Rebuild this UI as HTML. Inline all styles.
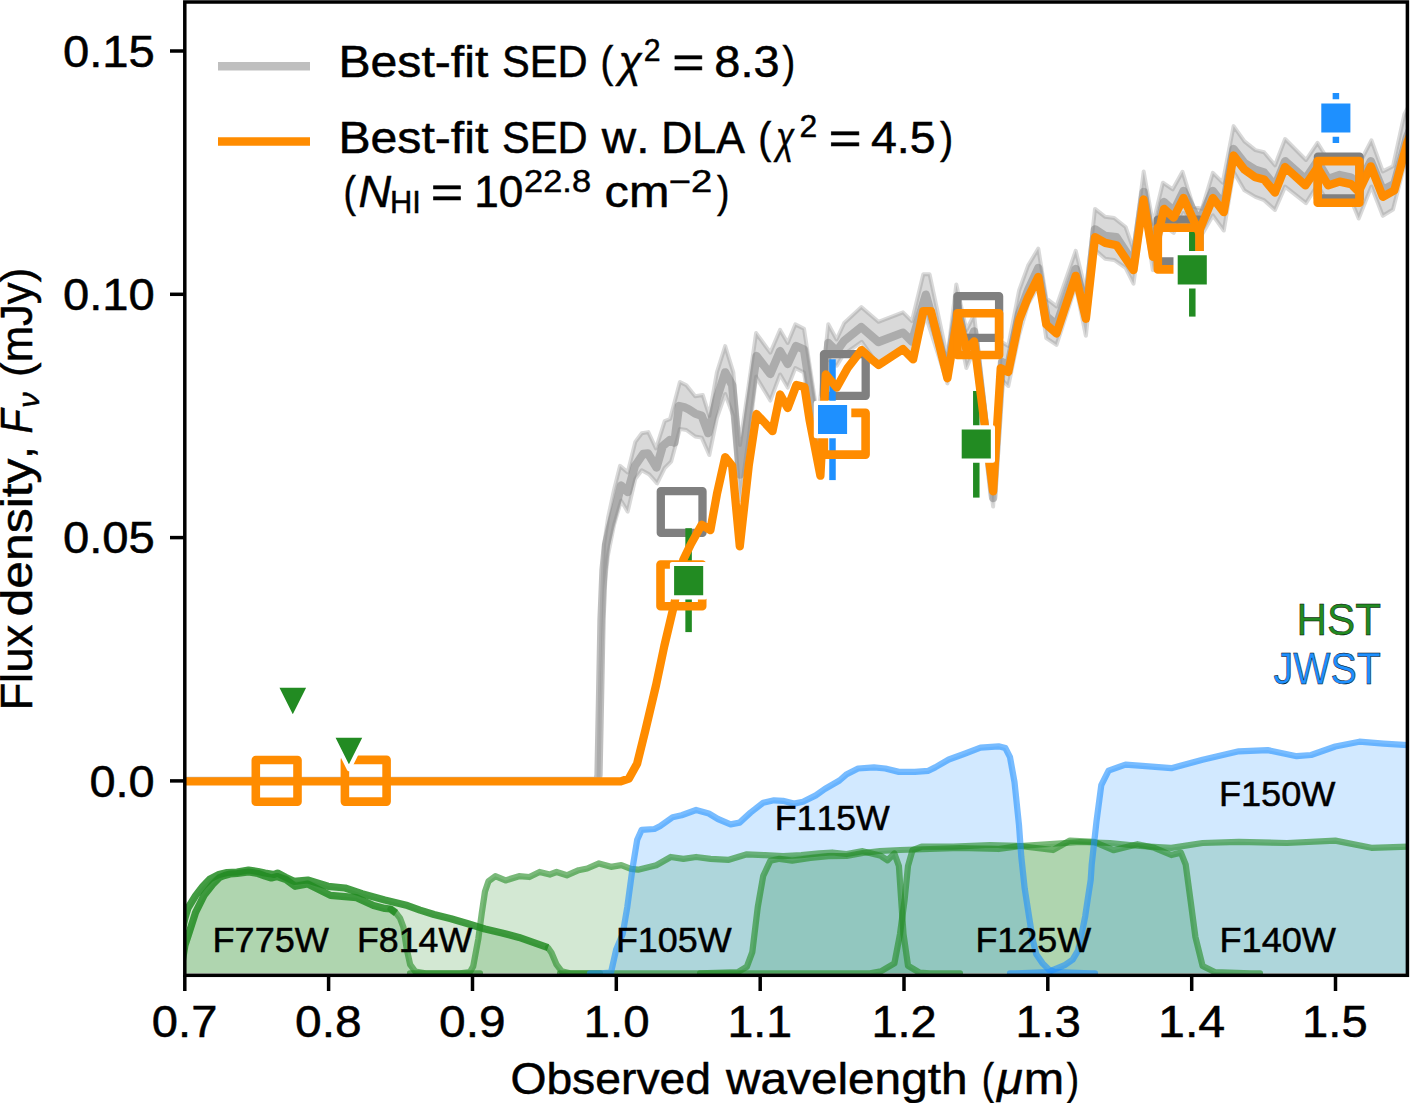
<!DOCTYPE html>
<html><head><meta charset="utf-8"><style>
html,body{margin:0;padding:0;background:#fff;}
svg{display:block;}
text{font-family:"Liberation Sans",sans-serif;font-kerning:none;stroke:#000;stroke-width:0.5px;}
</style></head><body>
<svg width="1410" height="1103" viewBox="0 0 1410 1103">
<rect width="1410" height="1103" fill="#fff"/>
<defs><clipPath id="ax"><rect x="184.8" y="2.0" width="1222.6000000000001" height="973.3"/></clipPath></defs>
<g clip-path="url(#ax)">
<polygon points="180.0,975.0 185.0,945.0 188.4,934.8 195.6,912.3 204.3,894.9 213.0,884.0 219.5,877.5 224.6,875.5 230.0,874.0 237.0,873.5 248.5,872.0 258.0,873.5 265.0,876.0 271.3,878.0 277.0,876.5 286.0,879.5 295.2,886.3 307.7,884.0 330.4,895.4 356.5,897.7 373.5,905.6 384.8,908.4 390.5,909.0 396.0,913.0 400.0,918.1 403.4,927.2 406.8,949.4 410.2,964.7 415.3,971.5 425.5,973.3 425.5,973.3 180.0,973.3" fill="#228b22" fill-opacity="0.2"/>
<polygon points="175.0,960.0 185.0,918.0 188.0,908.0 195.6,895.6 202.9,886.2 210.1,878.9 218.8,874.5 227.0,872.5 237.0,872.0 248.5,870.0 258.0,871.5 265.0,873.0 274.0,874.5 277.5,873.0 286.0,877.5 294.0,881.3 307.7,880.0 328.1,886.3 345.1,888.0 362.1,893.7 384.8,900.0 407.5,905.6 420.0,910.1 434.0,914.5 451.0,918.7 468.0,923.8 485.0,929.0 502.0,933.0 519.0,937.4 536.0,943.4 548.0,947.7 551.5,952.8 556.6,964.7 561.7,971.3 570.0,973.3 570.0,973.3 175.0,973.3" fill="#228b22" fill-opacity="0.2"/>
<polygon points="460.0,973.3 470.0,972.0 473.2,966.4 478.3,939.0 481.7,913.6 485.0,891.5 488.5,881.3 495.3,876.2 505.5,880.4 519.0,876.2 529.4,877.0 539.6,872.0 549.8,874.5 556.6,872.0 566.8,875.3 578.7,870.2 587.2,868.5 599.0,863.4 611.0,866.8 621.3,865.1 630.9,868.8 638.1,869.7 656.3,865.2 670.8,857.0 683.4,858.8 696.1,857.0 710.6,858.8 728.8,859.8 746.9,854.3 765.0,855.2 783.1,856.1 801.3,855.2 819.4,853.4 832.1,852.5 846.6,854.0 862.7,851.2 880.8,855.8 887.6,860.3 894.4,853.5 898.9,866.0 901.2,900.0 903.5,934.0 908.0,965.7 919.3,972.5 930.0,973.3 930.0,973.3 460.0,973.3" fill="#228b22" fill-opacity="0.2"/>
<polygon points="700.0,973.3 737.8,972.1 746.9,966.7 752.3,952.2 757.8,906.9 763.2,876.0 770.4,860.7 779.5,858.8 792.2,860.7 810.3,858.0 828.4,856.1 846.6,856.0 862.7,853.0 880.0,851.0 900.0,850.0 930.0,849.0 960.0,848.0 998.6,849.0 1020.0,846.0 1053.0,850.0 1070.0,840.6 1094.1,841.8 1113.4,850.2 1137.5,844.2 1154.4,847.8 1171.3,855.0 1180.9,852.6 1185.7,864.7 1190.6,900.9 1195.4,937.0 1202.6,966.0 1214.7,972.0 1250.9,973.3 1250.9,973.3 700.0,973.3" fill="#228b22" fill-opacity="0.2"/>
<polygon points="870.0,973.3 880.8,971.4 894.4,963.4 900.0,934.0 904.6,900.0 908.0,866.0 912.5,850.1 921.6,846.7 953.3,846.7 990.0,845.0 1020.0,846.0 1050.0,844.0 1080.0,842.0 1110.0,843.0 1140.0,846.0 1171.3,847.8 1202.6,843.0 1238.8,841.8 1287.0,843.0 1335.3,840.6 1371.4,847.8 1410.0,846.6 1410.0,973.3 870.0,973.3" fill="#228b22" fill-opacity="0.2"/>
<polygon points="600.0,973.3 611.0,972.5 616.2,949.4 622.7,934.0 627.3,906.9 632.7,867.0 637.2,839.8 641.7,829.8 654.4,829.0 659.9,826.2 672.6,817.2 681.6,815.3 696.1,810.0 708.8,813.5 717.9,819.0 730.6,824.4 739.6,822.6 750.5,812.6 763.2,802.7 774.0,800.3 783.0,800.8 794.0,803.6 803.0,801.8 815.8,795.4 824.8,789.0 839.5,780.5 846.8,774.2 858.1,768.5 874.0,767.4 885.3,768.5 898.9,771.9 914.8,771.9 928.4,770.8 935.2,767.4 948.8,759.5 964.6,753.8 980.5,747.7 998.6,746.3 1005.4,748.1 1010.0,757.2 1014.5,782.1 1019.0,825.2 1021.3,856.9 1024.7,888.6 1029.0,916.3 1032.6,938.9 1036.3,954.3 1042.6,963.4 1049.0,969.8 1054.4,971.8 1070.0,972.6 1091.0,973.3 1091.0,973.3 600.0,973.3" fill="#1e90ff" fill-opacity="0.2"/>
<polygon points="1016.0,973.3 1049.0,972.0 1054.4,969.3 1065.3,964.8 1072.5,959.8 1078.0,950.7 1081.6,934.4 1085.2,916.3 1087.9,898.1 1090.7,880.0 1091.7,864.7 1096.5,821.3 1101.3,785.1 1108.6,770.6 1125.5,764.6 1142.3,765.8 1171.3,768.2 1202.6,759.8 1238.8,751.3 1267.7,750.1 1296.7,756.2 1311.1,755.0 1335.3,746.5 1359.4,741.7 1383.5,743.6 1410.0,745.3 1410.0,973.3 1016.0,973.3" fill="#1e90ff" fill-opacity="0.2"/>
<polyline points="390.5,909.0 396.0,913.0 400.0,918.1 403.4,927.2 406.8,949.4 410.2,964.7 415.3,971.5 425.5,973.3 480.0,973.3" fill="none" stroke="#228b22" stroke-opacity="0.6" stroke-width="6.25" stroke-linejoin="round" stroke-linecap="round"/>
<polyline points="548.0,947.7 551.5,952.8 556.6,964.7 561.7,971.3 570.0,973.3 600.0,973.3" fill="none" stroke="#228b22" stroke-opacity="0.6" stroke-width="6.25" stroke-linejoin="round" stroke-linecap="round"/>
<polyline points="180.0,975.0 185.0,945.0 188.4,934.8 195.6,912.3 204.3,894.9 213.0,884.0 219.5,877.5 224.6,875.5 230.0,874.0 237.0,873.5 248.5,872.0 258.0,873.5 265.0,876.0 271.3,878.0 277.0,876.5 286.0,879.5 295.2,886.3 307.7,884.0 330.4,895.4 356.5,897.7 373.5,905.6 384.8,908.4 390.5,909.0 396.0,913.0" fill="none" stroke="#228b22" stroke-opacity="0.85" stroke-width="7.2" stroke-linejoin="round" stroke-linecap="butt"/>
<polyline points="175.0,960.0 185.0,918.0 188.0,908.0 195.6,895.6 202.9,886.2 210.1,878.9 218.8,874.5 227.0,872.5 237.0,872.0 248.5,870.0 258.0,871.5 265.0,873.0 274.0,874.5 277.5,873.0 286.0,877.5 294.0,881.3 307.7,880.0 328.1,886.3 345.1,888.0 362.1,893.7 384.8,900.0 407.5,905.6 420.0,910.1 434.0,914.5 451.0,918.7 468.0,923.8 485.0,929.0 502.0,933.0 519.0,937.4 536.0,943.4 548.0,947.7" fill="none" stroke="#228b22" stroke-opacity="0.85" stroke-width="7.2" stroke-linejoin="round" stroke-linecap="butt"/>
<polyline points="410.0,973.3 460.0,973.3 470.0,972.0 473.2,966.4 478.3,939.0 481.7,913.6 485.0,891.5 488.5,881.3 495.3,876.2 505.5,880.4 519.0,876.2 529.4,877.0 539.6,872.0 549.8,874.5 556.6,872.0 566.8,875.3 578.7,870.2 587.2,868.5 599.0,863.4 611.0,866.8 621.3,865.1 630.9,868.8 638.1,869.7 656.3,865.2 670.8,857.0 683.4,858.8 696.1,857.0 710.6,858.8 728.8,859.8 746.9,854.3 765.0,855.2 783.1,856.1 801.3,855.2 819.4,853.4 832.1,852.5 846.6,854.0 862.7,851.2 880.8,855.8 887.6,860.3 894.4,853.5 898.9,866.0 901.2,900.0 903.5,934.0 908.0,965.7 919.3,972.5 930.0,973.3 960.0,973.3" fill="none" stroke="#228b22" stroke-opacity="0.6" stroke-width="6.25" stroke-linejoin="round" stroke-linecap="round"/>
<polyline points="560.0,973.3 700.0,973.3 737.8,972.1 746.9,966.7 752.3,952.2 757.8,906.9 763.2,876.0 770.4,860.7 779.5,858.8 792.2,860.7 810.3,858.0 828.4,856.1 846.6,856.0 862.7,853.0 880.0,851.0 900.0,850.0 930.0,849.0 960.0,848.0 998.6,849.0 1020.0,846.0 1053.0,850.0 1070.0,840.6 1094.1,841.8 1113.4,850.2 1137.5,844.2 1154.4,847.8 1171.3,855.0 1180.9,852.6 1185.7,864.7 1190.6,900.9 1195.4,937.0 1202.6,966.0 1214.7,972.0 1250.9,973.3 1260.0,973.3" fill="none" stroke="#228b22" stroke-opacity="0.6" stroke-width="6.25" stroke-linejoin="round" stroke-linecap="round"/>
<polyline points="700.0,973.3 870.0,973.3 880.8,971.4 894.4,963.4 900.0,934.0 904.6,900.0 908.0,866.0 912.5,850.1 921.6,846.7 953.3,846.7 990.0,845.0 1020.0,846.0 1050.0,844.0 1080.0,842.0 1110.0,843.0 1140.0,846.0 1171.3,847.8 1202.6,843.0 1238.8,841.8 1287.0,843.0 1335.3,840.6 1371.4,847.8 1410.0,846.6" fill="none" stroke="#228b22" stroke-opacity="0.6" stroke-width="6.25" stroke-linejoin="round" stroke-linecap="round"/>
<polyline points="590.0,973.3 600.0,973.3 611.0,972.5 616.2,949.4 622.7,934.0 627.3,906.9 632.7,867.0 637.2,839.8 641.7,829.8 654.4,829.0 659.9,826.2 672.6,817.2 681.6,815.3 696.1,810.0 708.8,813.5 717.9,819.0 730.6,824.4 739.6,822.6 750.5,812.6 763.2,802.7 774.0,800.3 783.0,800.8 794.0,803.6 803.0,801.8 815.8,795.4 824.8,789.0 839.5,780.5 846.8,774.2 858.1,768.5 874.0,767.4 885.3,768.5 898.9,771.9 914.8,771.9 928.4,770.8 935.2,767.4 948.8,759.5 964.6,753.8 980.5,747.7 998.6,746.3 1005.4,748.1 1010.0,757.2 1014.5,782.1 1019.0,825.2 1021.3,856.9 1024.7,888.6 1029.0,916.3 1032.6,938.9 1036.3,954.3 1042.6,963.4 1049.0,969.8 1054.4,971.8 1070.0,972.6 1091.0,973.3 1095.0,973.3" fill="none" stroke="#1e90ff" stroke-opacity="0.6" stroke-width="6.25" stroke-linejoin="round" stroke-linecap="round"/>
<polyline points="1010.0,973.3 1016.0,973.3 1049.0,972.0 1054.4,969.3 1065.3,964.8 1072.5,959.8 1078.0,950.7 1081.6,934.4 1085.2,916.3 1087.9,898.1 1090.7,880.0 1091.7,864.7 1096.5,821.3 1101.3,785.1 1108.6,770.6 1125.5,764.6 1142.3,765.8 1171.3,768.2 1202.6,759.8 1238.8,751.3 1267.7,750.1 1296.7,756.2 1311.1,755.0 1335.3,746.5 1359.4,741.7 1383.5,743.6 1410.0,745.3" fill="none" stroke="#1e90ff" stroke-opacity="0.6" stroke-width="6.25" stroke-linejoin="round" stroke-linecap="round"/>
</g>
<text x="212.54" y="951.7" font-size="35.5" textLength="116.28" lengthAdjust="spacingAndGlyphs" fill="#000" stroke="#000">F775W</text>
<text x="356.97" y="951.7" font-size="35.5" textLength="115.15" lengthAdjust="spacingAndGlyphs" fill="#000" stroke="#000">F814W</text>
<text x="615.96" y="951.7" font-size="35.5" textLength="115.67" lengthAdjust="spacingAndGlyphs" fill="#000" stroke="#000">F105W</text>
<text x="975.46" y="951.7" font-size="35.5" textLength="115.67" lengthAdjust="spacingAndGlyphs" fill="#000" stroke="#000">F125W</text>
<text x="1219.43" y="951.7" font-size="35.5" textLength="116.59" lengthAdjust="spacingAndGlyphs" fill="#000" stroke="#000">F140W</text>
<text x="774.77" y="830" font-size="35.5" textLength="114.95" lengthAdjust="spacingAndGlyphs" fill="#000" stroke="#000">F115W</text>
<text x="1218.94" y="805.6" font-size="35.5" textLength="116.49" lengthAdjust="spacingAndGlyphs" fill="#000" stroke="#000">F150W</text>
<g clip-path="url(#ax)">
<polygon points="598.5,780.0 600.0,690.0 602.0,600.0 604.0,545.0 608.0,518.0 614.0,490.0 620.0,465.9 627.7,472.4 635.3,441.9 641.8,433.2 648.3,432.1 656.0,448.5 664.7,421.2 670.1,419.0 679.9,382.0 686.4,385.3 695.2,396.2 702.8,395.1 709.3,415.8 716.9,372.3 725.2,346.1 733.3,372.3 740.0,445.0 748.7,385.0 756.1,333.1 770.3,352.7 780.1,329.9 787.7,342.9 795.3,324.4 804.0,328.8 818.0,420.0 828.3,324.2 836.6,339.5 844.2,323.0 861.3,307.1 878.4,321.8 903.0,312.3 911.9,321.2 923.3,274.3 929.6,274.3 947.4,358.0 956.3,284.4 966.4,330.0 974.1,315.0 993.1,478.0 1001.5,342.0 1008.3,346.0 1019.1,290.5 1028.1,265.6 1038.3,248.6 1046.3,298.4 1056.5,306.4 1075.7,250.8 1085.9,292.0 1095.0,208.9 1105.2,216.8 1114.2,218.0 1125.6,227.0 1133.5,249.7 1143.7,171.5 1153.0,224.0 1162.9,182.7 1172.7,189.3 1182.5,171.8 1193.3,206.7 1202.0,208.9 1212.9,172.9 1222.7,182.7 1233.6,126.1 1244.5,141.4 1255.4,150.1 1264.1,152.3 1275.0,165.3 1285.1,139.0 1306.0,160.0 1317.5,142.8 1328.2,160.0 1339.7,155.0 1351.1,158.0 1358.7,165.0 1371.4,140.3 1382.8,171.4 1393.0,166.3 1404.4,114.3 1412.0,100.0 1412.0,150.0 1404.4,165.0 1393.0,209.5 1382.8,215.8 1371.4,186.6 1358.7,218.4 1351.1,200.0 1339.7,198.0 1328.2,203.0 1317.5,185.0 1306.0,203.1 1285.1,186.6 1275.0,210.0 1264.1,200.2 1255.4,196.9 1244.5,190.4 1233.6,171.8 1223.8,230.6 1212.9,215.4 1198.8,240.0 1183.5,213.0 1173.7,232.8 1162.9,225.0 1152.8,270.1 1143.7,210.0 1133.5,283.7 1125.6,267.8 1114.2,259.9 1105.2,258.8 1095.0,249.7 1085.9,335.8 1075.7,286.0 1056.5,344.9 1046.3,338.1 1038.3,286.0 1028.1,304.1 1019.1,335.0 1008.3,386.0 1002.0,380.0 993.1,506.5 974.1,350.0 966.4,368.0 957.6,325.0 947.4,383.4 925.8,316.1 911.9,360.6 903.0,351.7 878.4,365.4 861.7,341.8 843.2,354.9 836.7,365.8 828.3,362.0 820.0,475.0 804.0,372.5 795.3,368.0 787.7,387.6 780.1,374.5 770.3,400.6 756.1,376.7 748.7,438.0 740.0,500.0 733.3,415.8 725.2,394.0 716.9,418.0 709.3,455.0 701.7,437.6 695.2,436.5 686.4,430.0 679.9,428.9 671.2,461.5 664.7,468.0 657.1,483.3 649.4,474.6 641.8,470.2 635.3,478.9 627.7,511.6 621.1,500.7 614.0,525.0 608.0,555.0 604.0,590.0 602.0,640.0 600.0,710.0 598.5,780.0" fill="#808080" fill-opacity="0.3" stroke="#808080" stroke-opacity="0.3" stroke-width="4" stroke-linejoin="round"/>
<polyline points="185.0,780.9 597.5,780.9 598.5,775.0 600.0,700.0 601.5,620.0 603.5,570.0 606.0,545.0 610.2,526.8 616.8,502.9 621.1,485.5 627.7,492.0 634.9,466.0 643.1,454.0 648.0,453.5 656.5,467.5 662.7,446.0 669.9,440.0 674.4,442.6 679.0,406.0 684.4,407.3 688.6,409.3 695.2,413.6 701.7,415.8 708.2,433.2 716.9,398.4 725.2,372.3 732.2,385.3 740.0,474.5 748.7,411.6 756.5,356.0 770.3,374.0 780.1,351.0 787.7,364.0 796.0,346.0 804.0,349.5 820.0,455.0 828.3,343.0 836.6,351.3 844.2,340.7 861.3,327.1 878.4,342.0 903.0,332.6 911.9,341.5 925.8,294.6 947.4,372.0 957.6,306.0 966.4,349.1 974.1,331.4 993.1,498.0 1002.0,362.0 1008.3,366.0 1019.1,314.0 1028.1,290.0 1038.3,268.0 1046.3,316.0 1056.5,325.0 1075.7,269.0 1085.9,311.0 1095.0,229.3 1105.2,236.0 1116.5,237.2 1133.5,263.0 1143.7,191.9 1153.1,250.0 1164.0,202.0 1173.7,211.0 1183.5,191.0 1198.8,222.0 1212.9,191.0 1223.8,205.0 1233.6,149.0 1244.5,163.0 1255.4,169.7 1264.1,172.5 1275.0,186.0 1285.1,161.2 1305.4,179.0 1317.5,161.0 1328.2,179.0 1339.7,175.0 1351.1,177.5 1358.7,185.0 1370.8,161.2 1382.8,190.0 1394.3,184.0 1407.0,137.0 1412.0,125.0" fill="none" stroke="#808080" stroke-opacity="0.5" stroke-width="8.3" stroke-linejoin="round" stroke-linecap="round"/>
<rect x="660.8" y="491.2" width="41.7" height="41.7" fill="none" stroke="#808080" stroke-width="8.3" stroke-linejoin="round"/>
<rect x="824.0" y="354.1" width="41.7" height="41.7" fill="none" stroke="#808080" stroke-width="8.3" stroke-linejoin="round"/>
<rect x="957.4" y="296.2" width="41.7" height="41.7" fill="none" stroke="#808080" stroke-width="8.3" stroke-linejoin="round"/>
<rect x="1157.8" y="219.7" width="41.7" height="41.7" fill="none" stroke="#808080" stroke-width="8.3" stroke-linejoin="round"/>
<rect x="1317.9" y="156.7" width="41.7" height="41.7" fill="none" stroke="#808080" stroke-width="8.3" stroke-linejoin="round"/>
<line x1="688.6" y1="528.2" x2="688.6" y2="632.1" stroke="#228b22" stroke-width="6.5"/>
<line x1="832.5" y1="359.3" x2="832.5" y2="480.1" stroke="#1e90ff" stroke-width="6.5"/>
<line x1="976.3" y1="391" x2="976.3" y2="497.6" stroke="#228b22" stroke-width="6.5"/>
<line x1="1192.3" y1="228.5" x2="1192.3" y2="316.6" stroke="#228b22" stroke-width="6.5"/>
<line x1="1335.9" y1="93" x2="1335.9" y2="143" stroke="#1e90ff" stroke-width="6.5"/>
<polyline points="185.0,781.3 620.8,781.3 628.9,778.5 637.1,763.7 645.2,731.0 656.1,685.0 664.3,646.0 673.8,606.0 683.3,559.8 690.8,544.3 701.7,524.7 710.4,530.1 716.9,494.2 725.2,457.2 732.2,465.9 739.8,546.4 748.7,466.0 756.5,414.0 772.5,431.1 780.1,394.5 787.7,408.0 796.4,385.0 804.5,387.0 809.5,419.7 820.4,475.7 825.8,374.5 836.7,387.6 847.6,368.0 861.5,350.0 871.5,359.3 878.6,364.9 903.0,349.1 913.1,359.3 923.3,311.1 930.9,311.1 947.4,378.3 957.6,316.1 966.4,349.1 974.1,341.5 993.1,491.3 1000.7,368.2 1008.3,372.0 1019.1,320.0 1028.1,297.3 1038.3,276.9 1046.3,324.5 1056.5,333.5 1075.7,275.8 1085.9,318.8 1095.0,237.2 1105.2,242.9 1116.5,245.2 1133.5,270.1 1143.5,199.5 1153.0,256.8 1164.0,208.9 1173.7,217.6 1183.5,198.0 1198.8,232.0 1212.9,198.0 1223.8,212.1 1233.6,155.5 1244.5,169.7 1255.4,177.3 1264.1,179.5 1275.0,192.5 1285.0,167.0 1305.4,185.4 1317.5,167.6 1328.2,185.4 1339.7,181.6 1351.1,184.1 1358.7,191.7 1370.8,166.3 1382.8,196.8 1394.3,190.4 1407.0,143.5 1412.0,130.0" fill="none" stroke="#ff8c00" stroke-width="8.3" stroke-linejoin="round" stroke-linecap="round"/>
<rect x="255.8" y="760.0" width="41.7" height="41.7" fill="none" stroke="#ff8c00" stroke-width="8.6" stroke-linejoin="round"/>
<rect x="344.9" y="759.9" width="41.7" height="41.7" fill="none" stroke="#ff8c00" stroke-width="8.6" stroke-linejoin="round"/>
<rect x="660.5" y="564.5" width="41.7" height="41.7" fill="none" stroke="#ff8c00" stroke-width="8.6" stroke-linejoin="round"/>
<rect x="823.9" y="412.9" width="41.7" height="41.7" fill="none" stroke="#ff8c00" stroke-width="8.6" stroke-linejoin="round"/>
<rect x="957.4" y="313.3" width="41.7" height="41.7" fill="none" stroke="#ff8c00" stroke-width="8.6" stroke-linejoin="round"/>
<rect x="1157.8" y="227.7" width="41.7" height="41.7" fill="none" stroke="#ff8c00" stroke-width="8.6" stroke-linejoin="round"/>
<rect x="1317.7" y="161.1" width="41.7" height="41.7" fill="none" stroke="#ff8c00" stroke-width="8.6" stroke-linejoin="round"/>
<rect x="672.0" y="564.0" width="33.3" height="33.3" fill="#228b22" stroke="#fff" stroke-width="4.2" stroke-linejoin="round"/>
<rect x="815.9" y="402.9" width="33.3" height="33.3" fill="#1e90ff" stroke="#fff" stroke-width="4.2" stroke-linejoin="round"/>
<rect x="959.6" y="427.4" width="33.3" height="33.3" fill="#228b22" stroke="#fff" stroke-width="4.2" stroke-linejoin="round"/>
<rect x="1175.6" y="253.2" width="33.3" height="33.3" fill="#228b22" stroke="#fff" stroke-width="4.2" stroke-linejoin="round"/>
<rect x="1319.2" y="101.3" width="33.3" height="33.3" fill="#1e90ff" stroke="#fff" stroke-width="4.2" stroke-linejoin="round"/>
<polygon points="276.1,685.6 309.5,685.6 292.8,719.0" fill="#228b22" stroke="#fff" stroke-width="4.2" stroke-linejoin="round"/>
<polygon points="332.2,735.6 365.6,735.6 348.9,769.0" fill="#228b22" stroke="#fff" stroke-width="4.2" stroke-linejoin="round"/>
</g>
<line x1="218" y1="66.3" x2="310" y2="66.3" stroke="#808080" stroke-opacity="0.5" stroke-width="8.5"/>
<line x1="218" y1="141.4" x2="310" y2="141.4" stroke="#ff8c00" stroke-width="8.5"/>
<text x="338.45" y="76.8" font-size="43.5" textLength="149.9" lengthAdjust="spacingAndGlyphs" fill="#000" stroke="#000">Best-fit</text>
<text x="502.01" y="76.8" font-size="43.5" textLength="85.58" lengthAdjust="spacingAndGlyphs" fill="#000" stroke="#000">SED</text>
<text x="600.61" y="76.8" font-size="43.5" textLength="12.81" lengthAdjust="spacingAndGlyphs" fill="#000" stroke="#000">(</text>
<text x="618.5" y="76.8" font-size="43.5" textLength="23.24" lengthAdjust="spacingAndGlyphs" font-style="italic" fill="#000" stroke="#000">χ</text>
<text x="643.68" y="61.3" font-size="31" textLength="16.85" lengthAdjust="spacingAndGlyphs" fill="#000" stroke="#000">2</text>
<text x="672.3" y="76.8" font-size="43.5" textLength="32.33" lengthAdjust="spacingAndGlyphs" fill="#000" stroke="#000">=</text>
<text x="714.36" y="76.8" font-size="43.5" textLength="65.2" lengthAdjust="spacingAndGlyphs" fill="#000" stroke="#000">8.3</text>
<text x="782.38" y="76.8" font-size="43.5" textLength="12.69" lengthAdjust="spacingAndGlyphs" fill="#000" stroke="#000">)</text>
<text x="338.45" y="152.6" font-size="43.5" textLength="149.9" lengthAdjust="spacingAndGlyphs" fill="#000" stroke="#000">Best-fit</text>
<text x="502.01" y="152.6" font-size="43.5" textLength="85.58" lengthAdjust="spacingAndGlyphs" fill="#000" stroke="#000">SED</text>
<text x="601.87" y="152.6" font-size="43.5" textLength="47.57" lengthAdjust="spacingAndGlyphs" fill="#000" stroke="#000">w.</text>
<text x="661.27" y="152.6" font-size="43.5" textLength="83.61" lengthAdjust="spacingAndGlyphs" fill="#000" stroke="#000">DLA</text>
<text x="758.17" y="152.6" font-size="43.5" textLength="13.06" lengthAdjust="spacingAndGlyphs" fill="#000" stroke="#000">(</text>
<text x="776.12" y="152.6" font-size="43.5" textLength="18.14" lengthAdjust="spacingAndGlyphs" font-style="italic" fill="#000" stroke="#000">χ</text>
<text x="799.6" y="136.5" font-size="31" textLength="17.7" lengthAdjust="spacingAndGlyphs" fill="#000" stroke="#000">2</text>
<text x="828.63" y="152.6" font-size="43.5" textLength="33.18" lengthAdjust="spacingAndGlyphs" fill="#000" stroke="#000">=</text>
<text x="870.93" y="152.6" font-size="43.5" textLength="64.72" lengthAdjust="spacingAndGlyphs" fill="#000" stroke="#000">4.5</text>
<text x="940.07" y="152.6" font-size="43.5" textLength="13.19" lengthAdjust="spacingAndGlyphs" fill="#000" stroke="#000">)</text>
<text x="343.38" y="206.7" font-size="43.5" textLength="12.43" lengthAdjust="spacingAndGlyphs" fill="#000" stroke="#000">(</text>
<text x="358.51" y="206.7" font-size="43.5" textLength="32.57" lengthAdjust="spacingAndGlyphs" font-style="italic" fill="#000" stroke="#000">N</text>
<text x="389.97" y="213.2" font-size="30.8" textLength="30.88" lengthAdjust="spacingAndGlyphs" fill="#000" stroke="#000">HI</text>
<text x="430.89" y="206.7" font-size="43.5" textLength="32.45" lengthAdjust="spacingAndGlyphs" fill="#000" stroke="#000">=</text>
<text x="474.24" y="206.7" font-size="43.5" textLength="49.09" lengthAdjust="spacingAndGlyphs" fill="#000" stroke="#000">10</text>
<text x="524.07" y="192" font-size="31" textLength="67.03" lengthAdjust="spacingAndGlyphs" fill="#000" stroke="#000">22.8</text>
<text x="604.64" y="206.7" font-size="43.5" textLength="64.77" lengthAdjust="spacingAndGlyphs" fill="#000" stroke="#000">cm</text>
<text x="668.62" y="192" font-size="31" textLength="43.5" lengthAdjust="spacingAndGlyphs" fill="#000" stroke="#000">−2</text>
<text x="717.08" y="206.7" font-size="43.5" textLength="12.43" lengthAdjust="spacingAndGlyphs" fill="#000" stroke="#000">)</text>
<text x="1296.43" y="635.2" font-size="45" textLength="84.54" lengthAdjust="spacingAndGlyphs" fill="#228b22" stroke="#228b22">HST</text>
<text x="1273.38" y="684.2" font-size="45" textLength="107.52" lengthAdjust="spacingAndGlyphs" fill="#1e90ff" stroke="#1e90ff">JWST</text>
<rect x="184.8" y="2.0" width="1222.6000000000001" height="973.3" fill="none" stroke="#000" stroke-width="3.5" stroke-linejoin="miter"/>
<line x1="184.8" y1="975.3" x2="184.8" y2="991" stroke="#000" stroke-width="3.5"/>
<text x="151.86" y="1037.1" font-size="44.3" textLength="65.51" lengthAdjust="spacingAndGlyphs" fill="#000" stroke="#000">0.7</text>
<line x1="328.6" y1="975.3" x2="328.6" y2="991" stroke="#000" stroke-width="3.5"/>
<text x="295.13" y="1037.1" font-size="44.3" textLength="66.66" lengthAdjust="spacingAndGlyphs" fill="#000" stroke="#000">0.8</text>
<line x1="472.5" y1="975.3" x2="472.5" y2="991" stroke="#000" stroke-width="3.5"/>
<text x="439.03" y="1037.1" font-size="44.3" textLength="66.54" lengthAdjust="spacingAndGlyphs" fill="#000" stroke="#000">0.9</text>
<line x1="616.3" y1="975.3" x2="616.3" y2="991" stroke="#000" stroke-width="3.5"/>
<text x="583.59" y="1037.1" font-size="44.3" textLength="65.97" lengthAdjust="spacingAndGlyphs" fill="#000" stroke="#000">1.0</text>
<line x1="760.2" y1="975.3" x2="760.2" y2="991" stroke="#000" stroke-width="3.5"/>
<text x="727.46" y="1037.1" font-size="44.3" textLength="64.61" lengthAdjust="spacingAndGlyphs" fill="#000" stroke="#000">1.1</text>
<line x1="904.0" y1="975.3" x2="904.0" y2="991" stroke="#000" stroke-width="3.5"/>
<text x="871.42" y="1037.1" font-size="44.3" textLength="65.34" lengthAdjust="spacingAndGlyphs" fill="#000" stroke="#000">1.2</text>
<line x1="1047.8" y1="975.3" x2="1047.8" y2="991" stroke="#000" stroke-width="3.5"/>
<text x="1015.53" y="1037.1" font-size="44.3" textLength="65.24" lengthAdjust="spacingAndGlyphs" fill="#000" stroke="#000">1.3</text>
<line x1="1191.7" y1="975.3" x2="1191.7" y2="991" stroke="#000" stroke-width="3.5"/>
<text x="1158.02" y="1037.1" font-size="44.3" textLength="67.2" lengthAdjust="spacingAndGlyphs" fill="#000" stroke="#000">1.4</text>
<line x1="1335.5" y1="975.3" x2="1335.5" y2="991" stroke="#000" stroke-width="3.5"/>
<text x="1302.11" y="1037.1" font-size="44.3" textLength="65.57" lengthAdjust="spacingAndGlyphs" fill="#000" stroke="#000">1.5</text>
<line x1="170" y1="51.0" x2="184.8" y2="51.0" stroke="#000" stroke-width="3.5"/>
<text x="62.95" y="66.7" font-size="44.3" textLength="91.93" lengthAdjust="spacingAndGlyphs" fill="#000" stroke="#000">0.15</text>
<line x1="170" y1="294.3" x2="184.8" y2="294.3" stroke="#000" stroke-width="3.5"/>
<text x="62.96" y="310.0" font-size="44.3" textLength="91.78" lengthAdjust="spacingAndGlyphs" fill="#000" stroke="#000">0.10</text>
<line x1="170" y1="537.6" x2="184.8" y2="537.6" stroke="#000" stroke-width="3.5"/>
<text x="62.95" y="553.3" font-size="44.3" textLength="91.93" lengthAdjust="spacingAndGlyphs" fill="#000" stroke="#000">0.05</text>
<line x1="170" y1="780.9" x2="184.8" y2="780.9" stroke="#000" stroke-width="3.5"/>
<text x="89.47" y="796.6" font-size="44.3" textLength="65.27" lengthAdjust="spacingAndGlyphs" fill="#000" stroke="#000">0.0</text>
<text x="510.41" y="1093.8" font-size="45" textLength="200.57" lengthAdjust="spacingAndGlyphs" fill="#000" stroke="#000">Observed</text>
<text x="726.07" y="1093.8" font-size="45" textLength="241.43" lengthAdjust="spacingAndGlyphs" fill="#000" stroke="#000">wavelength</text>
<text x="981.71" y="1093.8" font-size="45" textLength="12.31" lengthAdjust="spacingAndGlyphs" fill="#000" stroke="#000">(</text>
<text x="996.98" y="1093.8" font-size="45" textLength="25.67" lengthAdjust="spacingAndGlyphs" font-style="italic" fill="#000" stroke="#000">μ</text>
<text x="1023.78" y="1093.8" font-size="45" textLength="40.42" lengthAdjust="spacingAndGlyphs" fill="#000" stroke="#000">m</text>
<text x="1066.78" y="1093.8" font-size="45" textLength="12.31" lengthAdjust="spacingAndGlyphs" fill="#000" stroke="#000">)</text>
<text transform="translate(32,0) rotate(-90)" x="-710.63" y="0" font-size="45" textLength="85.81" lengthAdjust="spacingAndGlyphs">Flux</text>
<text transform="translate(32,0) rotate(-90)" x="-616.6" y="0" font-size="45" textLength="158.19" lengthAdjust="spacingAndGlyphs">density</text>
<text transform="translate(32,0) rotate(-90)" x="-459.01" y="0" font-size="45" textLength="13.02" lengthAdjust="spacingAndGlyphs">,</text>
<text transform="translate(32,0) rotate(-90)" x="-433.51" y="0" font-size="45" textLength="24.07" lengthAdjust="spacingAndGlyphs" font-style="italic">F</text>
<text transform="translate(39,0) rotate(-90)" x="-407.8" y="0" font-size="30" textLength="15.49" lengthAdjust="spacingAndGlyphs" font-style="italic">ν</text>
<text transform="translate(32,0) rotate(-90)" x="-376.91" y="0" font-size="45" textLength="109.12" lengthAdjust="spacingAndGlyphs">(mJy)</text>
</svg>
</body></html>
